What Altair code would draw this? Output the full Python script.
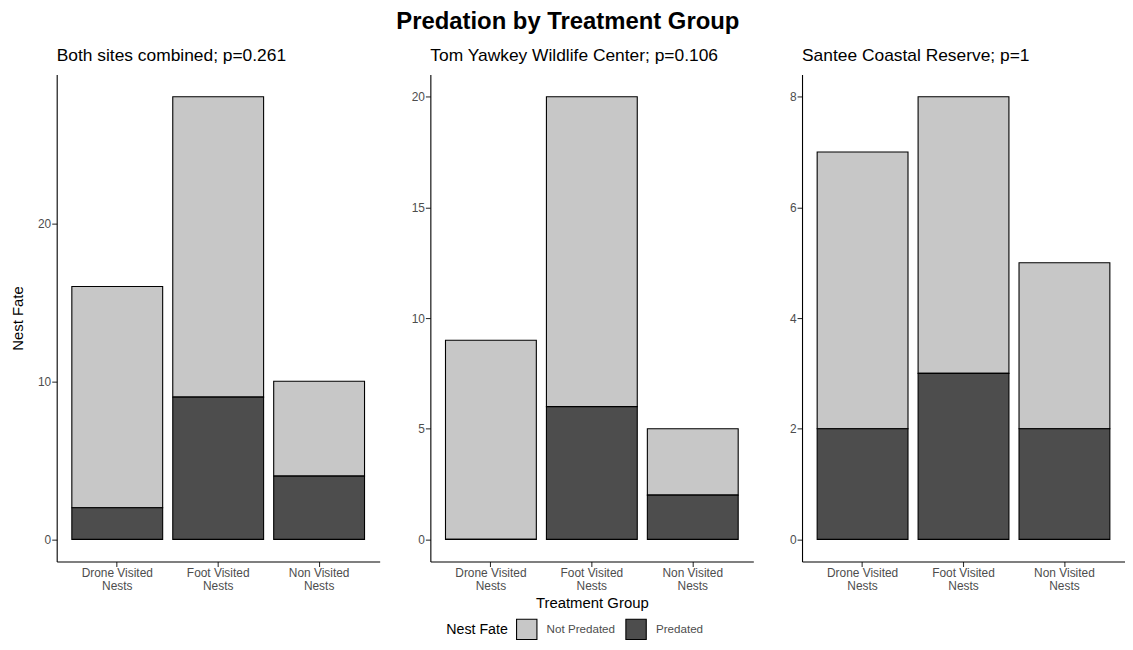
import altair as alt
import pandas as pd

FONT = "Liberation Sans"

treatments = ["Drone Visited Nests", "Foot Visited Nests", "Non Visited Nests"]
fates = ["Not Predated", "Predated"]
fate_colors = ["#C7C7C7", "#4D4D4D"]

both_not_predated = [14, 19, 6]
both_predated = [2, 9, 4]
tom_not_predated = [9, 14, 3]
tom_predated = [0, 6, 2]
santee_not_predated = [5, 5, 3]
santee_predated = [2, 3, 2]

titles = [
    "Both sites combined; p=0.261",
    "Tom Yawkey Wildlife Center; p=0.106",
    "Santee Coastal Reserve; p=1",
]
y_domains = [[-1.4, 29.4], [-1.0, 21.0], [-0.4, 8.4]]
y_ticks = [[0, 10, 20], [0, 5, 10, 15, 20], [0, 2, 4, 6, 8]]


def make_df(not_pred, pred):
    rows = []
    for t, n, p in zip(treatments, not_pred, pred):
        rows.append({"treatment": t, "fate": "Not Predated", "count": n})
        rows.append({"treatment": t, "fate": "Predated", "count": p})
    return pd.DataFrame(rows)


dfs = [
    make_df(both_not_predated, both_predated),
    make_df(tom_not_predated, tom_predated),
    make_df(santee_not_predated, santee_predated),
]


def panel(i, width, min_extent):
    df = dfs[i]
    return (
        alt.Chart(df)
        .mark_bar(stroke="black", strokeWidth=1.1)
        .encode(
            x=alt.X(
                "treatment:N",
                sort=treatments,
                scale=alt.Scale(paddingInner=0.1, paddingOuter=0.15),
                axis=alt.Axis(
                    title="Treatment Group" if i == 1 else None,
                    labelAngle=0,
                    labelExpr="[replace(datum.label, ' Nests', ''), 'Nests']",
                    labelLineHeight=13,
                ),
            ),
            y=alt.Y(
                "count:Q",
                stack="zero",
                scale=alt.Scale(domain=y_domains[i], nice=False, zero=False),
                axis=alt.Axis(
                    title="Nest Fate" if i == 0 else None,
                    values=y_ticks[i],
                    grid=False,
                    minExtent=min_extent,
                ),
            ),
            color=alt.Color(
                "fate:N",
                scale=alt.Scale(domain=fates, range=fate_colors),
                legend=alt.Legend(
                    title="Nest Fate",
                    orient="none",
                    direction="horizontal",
                    titleOrient="left",
                    legendX=392,
                    legendY=547,
                ),
            ),
            order=alt.Order("fate:N", sort="descending"),
        )
        .properties(
            width=width,
            height=490,
            title=alt.TitleParams(
                titles[i],
                anchor="start",
                frame="group",
                fontSize=17.5,
                fontWeight="normal",
                font=FONT,
                color="black",
                offset=10,
            ),
        )
    )


chart = (
    alt.hconcat(panel(0, 325, 0), panel(1, 325, 0), panel(2, 325, 18), spacing=31)
    .properties(
        title=alt.TitleParams(
            "Predation by Treatment Group",
            anchor="middle",
            fontSize=24,
            fontWeight="bold",
            font=FONT,
            color="black",
            offset=13,
        ),
        padding={"left": 2, "top": 0, "right": 0, "bottom": 0},
    )
    .configure_view(stroke=None)
    .configure_axis(
        labelFont=FONT,
        titleFont=FONT,
        labelFontSize=12,
        titleFontSize=15,
        titleFontWeight="normal",
        labelColor="#4D4D4D",
        titleColor="black",
        domainColor="black",
        domainWidth=1.1,
        tickColor="#333333",
        tickSize=5,
        tickWidth=1.1,
        labelPadding=1,
    )
    .configure_axisY(titlePadding=12)
    .configure_axisX(titlePadding=4)
    .configure_legend(
        titleFont=FONT,
        labelFont=FONT,
        titleFontSize=14.3,
        titleFontWeight="normal",
        titleColor="black",
        titlePadding=8,
        labelFontSize=11.7,
        labelColor="#4D4D4D",
        symbolType="square",
        symbolSize=420,
        symbolStrokeColor="black",
        symbolStrokeWidth=1.1,
        symbolOpacity=1,
        columnPadding=8,
        labelOffset=9,
    )
)

chart.save("out.html", embed_options={"renderer": "svg", "actions": False})
